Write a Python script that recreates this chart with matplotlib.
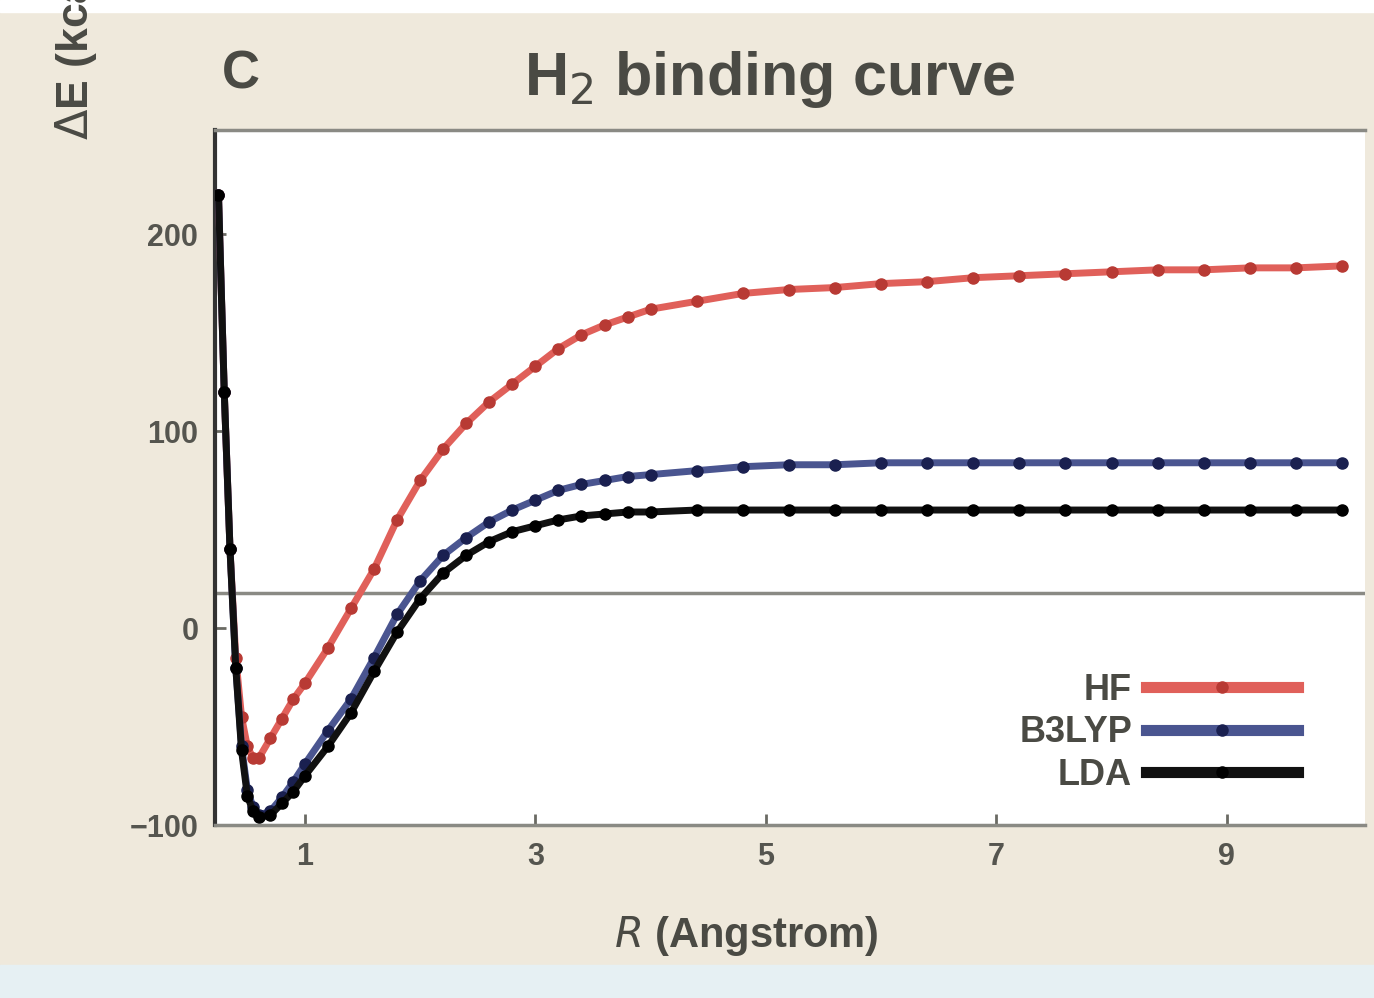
import numpy as np
import matplotlib
matplotlib.use('Agg')
import matplotlib.pyplot as plt
from matplotlib.patches import Rectangle

# bond length (Angstrom), shared by all three methods
r = [0.25, 0.3, 0.35, 0.4, 0.45, 0.5, 0.55, 0.6, 0.7, 0.8, 0.9, 1.0, 1.2, 1.4, 1.6, 1.8, 2.0, 2.2, 2.4, 2.6,
     2.8, 3.0, 3.2, 3.4, 3.6, 3.8, 4.0, 4.4, 4.8, 5.2, 5.6, 6.0, 6.4, 6.8, 7.2, 7.6, 8.0, 8.4, 8.8, 9.2, 9.6, 10.0]

# binding energy for each method
e_hf = [220, 120, 40, -15, -45, -60, -66, -66, -56, -46, -36, -28, -10, 10, 30, 55, 75, 91, 104, 115,
        124, 133, 142, 149, 154, 158, 162, 166, 170, 172, 173, 175, 176, 178, 179, 180, 181, 182, 182, 183, 183, 184]
e_b3 = [220, 120, 40, -20, -60, -82, -91, -95, -93, -86, -78, -69, -52, -36, -15, 7, 24, 37, 46, 54,
        60, 65, 70, 73, 75, 77, 78, 80, 82, 83, 83, 84, 84, 84, 84, 84, 84, 84, 84, 84, 84, 84]
e_lda = [220, 120, 40, -20, -62, -85, -93, -96, -95, -89, -83, -75, -60, -43, -22, -2, 15, 28, 37, 44,
         49, 52, 55, 57, 58, 59, 59, 60, 60, 60, 60, 60, 60, 60, 60, 60, 60, 60, 60, 60, 60, 60]

ref_level = 18
xticks = [1, 3, 5, 7, 9]
yticks = [-100, 0, 100, 200]

bg = '#efe9dc'
txt = '#4a4a44'
cond = ['Liberation Sans Narrow', 'Liberation Sans', 'DejaVu Sans']

fig = plt.figure(figsize=(13.74, 9.98), dpi=100, facecolor=bg)
fig.patches.append(Rectangle((0, 0.988), 1, 0.012, transform=fig.transFigure, color='white', zorder=0))
fig.patches.append(Rectangle((0, 0), 1, 0.033, transform=fig.transFigure, color='#e6f0f3', zorder=0))

ax = fig.add_axes([0.1565, 0.1733, 0.837, 0.6964])
ax.set_facecolor('white')

ax.axhline(ref_level, color='#8a8a84', lw=2.5, zorder=1)

ax.plot(r, e_hf, color='#e0605a', lw=5, marker='o', ms=8, mfc='#b83a34', mec='#b83a34', label='HF', zorder=3)
ax.plot(r, e_b3, color='#4a5590', lw=5, marker='o', ms=8, mfc='#1a2050', mec='#1a2050', label='B3LYP', zorder=4)
ax.plot(r, e_lda, color='#111111', lw=5, marker='o', ms=8, mfc='black', mec='black', label='LDA', zorder=5)

ax.set_xlim(0.22, 10.2)
ax.set_ylim(-100, 253)
ax.set_xticks(xticks)
ax.set_yticks(yticks)
ax.tick_params(direction='in', length=8, width=2, color='#6a6a64', labelcolor='#55554f', labelsize=22, pad=12)
for lab in ax.get_xticklabels() + ax.get_yticklabels():
    lab.set_family(cond)
    lab.set_fontweight('bold')

ax.spines['right'].set_visible(False)
for s in ['top', 'bottom']:
    ax.spines[s].set_color('#8a8a84')
    ax.spines[s].set_linewidth(2.5)
ax.spines['left'].set_color('#333333')
ax.spines['left'].set_linewidth(3)

leg = ax.legend(loc='lower right', bbox_to_anchor=(0.97, 0.0), frameon=False, markerfirst=False,
                handlelength=4.2, handletextpad=0.4, labelspacing=0.2,
                prop={'family': cond, 'weight': 'bold', 'size': 26})
for t in leg.get_texts():
    t.set_color(txt)
for h in leg.legend_handles:
    h.set_linewidth(8)

fig.text(0.56, 0.92, 'H$_2$ binding curve', ha='center', va='center', fontsize=44,
         fontweight='bold', color=txt, family=cond)
fig.text(0.175, 0.925, 'C', ha='center', va='center', fontsize=38, fontweight='bold', color=txt, family=cond)
fig.text(0.055, 1 - 140 / 998, '$\\Delta$E (kcal/mol)', rotation=90, ha='center', va='bottom',
         fontsize=32, fontweight='bold', color=txt, family=cond)
fig.text(0.543, 0.062, '$\\it{R}$ (Angstrom)', ha='center', va='center', fontsize=30,
         fontweight='bold', color=txt, family=cond)

fig.savefig('out.png', dpi=100, facecolor=bg)
